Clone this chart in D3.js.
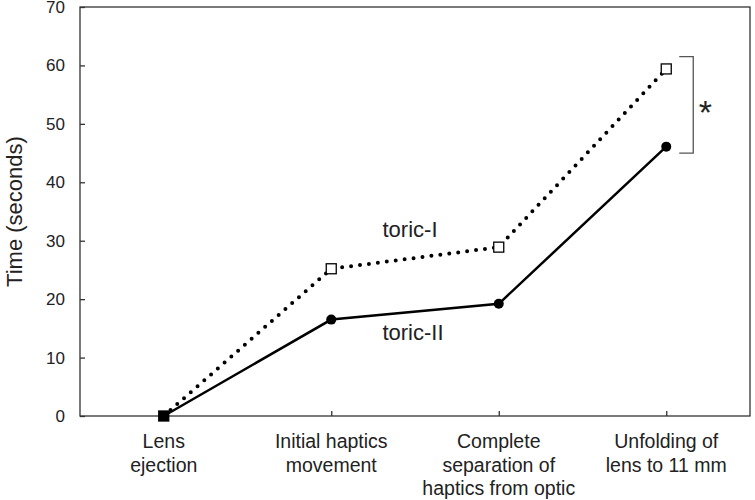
<!DOCTYPE html>
<html>
<head>
<meta charset="utf-8">
<script src="https://cdn.jsdelivr.net/npm/d3@7"></script>
<style>
  body { margin: 0; background: #fff; }
  svg { font-family: "Liberation Sans", Arial, sans-serif; }
</style>
</head>
<body>
<svg id="chart" width="755" height="500"></svg>
<script>
(function() {
    const width = 755, height = 500;
    const margin = { top: 7, right: 5, bottom: 84, left: 80 };

    const stages = ["Lens ejection", "Initial haptics movement", "Complete separation of haptics from optic", "Unfolding of lens to 11 mm"];
    const stageLines = [["Lens", "ejection"], ["Initial haptics", "movement"], ["Complete", "separation of", "haptics from optic"], ["Unfolding of", "lens to 11 mm"]];
    const toricI = [0, 25.2, 28.9, 59.4];
    const toricII = [0, 16.5, 19.2, 46.1];
    const yTicks = [0, 10, 20, 30, 40, 50, 60, 70];

    const svg = d3.select("#chart");
    const x = d3.scalePoint().domain(stages)
        .range([margin.left, width - margin.right]).padding(0.5);
    const y = d3.scaleLinear().domain([0, 70])
        .range([height - margin.bottom, margin.top]);

    // --- FRAME ---
    svg.append("rect")
        .attr("x", margin.left).attr("y", margin.top)
        .attr("width", width - margin.right - margin.left)
        .attr("height", y(0) - margin.top)
        .attr("fill", "none").attr("stroke", "#333").attr("stroke-width", 1.3);

    // --- AXES ---
    const yAxis = svg.append("g")
        .attr("transform", `translate(${margin.left},0)`)
        .call(d3.axisRight(y).tickValues(yTicks).tickSize(5).tickFormat(d3.format("d")))
        .attr("font-family", null);
    yAxis.select(".domain").remove();
    yAxis.selectAll("line").attr("stroke", "#333").attr("stroke-width", 1.3);
    yAxis.selectAll("text")
        .attr("x", -15).attr("text-anchor", "end")
        .attr("font-size", "17px").attr("fill", "#222");

    const xAxis = svg.append("g")
        .attr("transform", `translate(0,${y(0)})`)
        .call(d3.axisTop(x).tickSize(5).tickFormat(""));
    xAxis.select(".domain").remove();
    xAxis.selectAll("line").attr("stroke", "#333").attr("stroke-width", 1.3);

    const xl = svg.append("g");
    stages.forEach((s, i) => {
        const t = xl.append("text")
            .attr("x", x(s)).attr("y", 448)
            .attr("text-anchor", "middle")
            .attr("font-size", "19.5px").attr("fill", "#222");
        stageLines[i].forEach((ln, j) => {
            t.append("tspan").attr("x", x(s)).attr("dy", j === 0 ? 0 : 23.5).text(ln);
        });
    });

    svg.append("text")
        .attr("transform", `translate(22,${(margin.top + y(0)) / 2}) rotate(-90)`)
        .attr("text-anchor", "middle")
        .attr("font-size", "22px").attr("fill", "#222")
        .text("Time (seconds)");

    // --- LINES ---
    const line = d3.line().x((d, i) => x(stages[i])).y(d => y(d));

    svg.append("path").datum(toricI)
        .attr("d", line).attr("fill", "none")
        .attr("stroke", "#000").attr("stroke-width", 4)
        .attr("stroke-linecap", "round")
        .attr("stroke-dasharray", "0 9");

    svg.append("path").datum(toricII)
        .attr("d", line).attr("fill", "none")
        .attr("stroke", "#000").attr("stroke-width", 2.5);

    svg.append("g").selectAll("circle")
        .data(toricII).join("circle")
        .attr("cx", (d, i) => x(stages[i])).attr("cy", d => y(d))
        .attr("r", 5).attr("fill", "#000");

    svg.append("g").selectAll("rect")
        .data(toricI).join("rect")
        .attr("x", (d, i) => x(stages[i]) - 5).attr("y", d => y(d) - 5)
        .attr("width", 10).attr("height", 10)
        .attr("fill", d => d === 0 ? "#000" : "#fff")
        .attr("stroke", "#000").attr("stroke-width", 1.3);

    // --- SERIES LABELS ---
    svg.append("text").attr("x", 410).attr("y", 237)
        .attr("text-anchor", "middle").attr("font-size", "22px").attr("fill", "#222")
        .text("toric-I");
    svg.append("text").attr("x", 413).attr("y", 340)
        .attr("text-anchor", "middle").attr("font-size", "22px").attr("fill", "#222")
        .text("toric-II");

    // --- SIGNIFICANCE BRACKET ---
    const bx = x(stages[3]) + 27;
    svg.append("path")
        .attr("d", `M${bx - 14},${y(61.5)} H${bx} V${y(45)} H${bx - 14}`)
        .attr("fill", "none").attr("stroke", "#555").attr("stroke-width", 1.3);
    svg.append("text").attr("x", bx + 12).attr("y", (y(61.5) + y(45)) / 2 + 19)
        .attr("text-anchor", "middle").attr("font-size", "34px").attr("fill", "#222")
        .text("*");
})();
</script>
</body>
</html>
